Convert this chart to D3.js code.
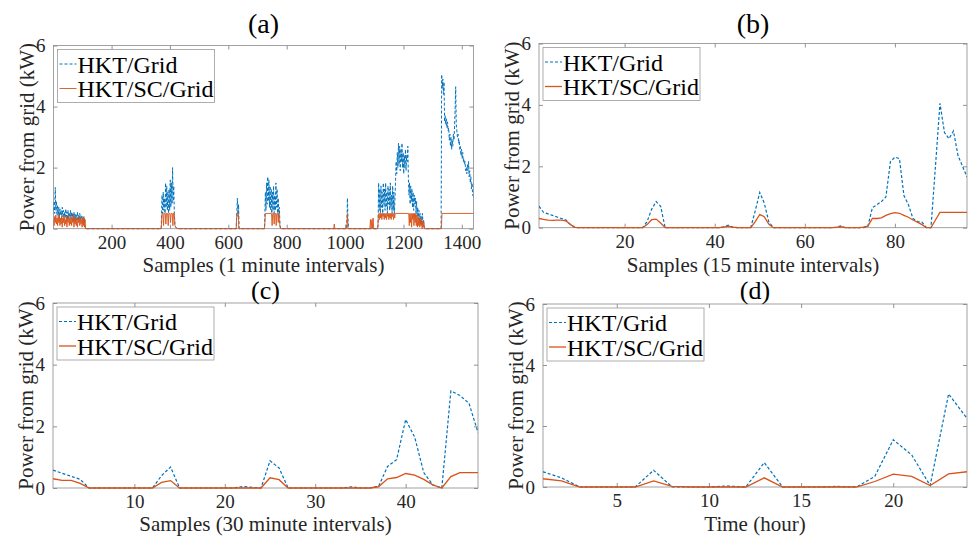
<!DOCTYPE html>
<html><head><meta charset="utf-8">
<script src="https://cdn.jsdelivr.net/npm/d3@7"></script>
<style>body{margin:0;background:#fff}svg{display:block}text{font-family:"Liberation Serif","Times New Roman",serif}</style>
</head><body>
<svg id="chart" width="970" height="539"></svg>
<script>
// ---------- DATA ----------
const seriesNames = ["HKT/Grid", "HKT/SC/Grid"];
const yTicks = [0, 2, 4, 6];
const xTicksA = [200, 400, 600, 800, 1000, 1200, 1400];
const xTicksB = [20, 40, 60, 80];
const xTicksC = [10, 20, 30, 40];
const xTicksD = [5, 10, 15, 20];
const titles = ["(a)", "(b)", "(c)", "(d)"];
const xLabels = ["Samples (1 minute intervals)", "Samples (15 minute intervals)", "Samples (30 minute intervals)", "Time (hour)"];
const yLabel = "Power from grid (kW)";

// Panel (a): [sample, kW] vertices
const gridA = [[1,0.6],[3,0.9],[5,0.5],[7,1.35],[9,0.6],[11,0.9],[13,0.45],[15,0.75],[17,0.4],[19,0.7],[21,0.35],[23,0.65],[25,0.45],[27,0.6],[29,0.35],[31,0.7],[33,0.4],[35,0.6],[37,0.3],[39,0.55],[41,0.35],[43,0.65],[45,0.4],[47,0.55],[49,0.3],[51,0.6],[53,0.35],[55,0.5],[57,0.3],[59,0.6],[61,0.35],[63,0.55],[65,0.3],[67,0.5],[69,0.25],[71,0.55],[73,0.3],[75,0.5],[77,0.25],[79,0.45],[81,0.3],[83,0.55],[85,0.25],[87,0.45],[89,0.3],[91,0.5],[93,0.25],[95,0.45],[97,0.3],[99,0.4],[101,0.2],[103,0.4],[105,0.15],[107,0.35],[109,0.1],[111,0],
[370,0],[373,1.1],[375,0.5],[377,1.2],[379,0.6],[381,1.0],[383,0.5],[385,1.5],[387,0.7],[389,1.4],[391,0.6],[393,1.2],[395,0.5],[397,1.3],[399,0.6],[401,1.6],[403,0.7],[405,1.5],[407,0.8],[409,2.0],[411,0.9],[413,1.4],[415,0.5],[417,0.1],[420,0.05],[425,0],
[627,0],[629,0.5],[631,1.0],[633,0.4],[635,0.8],[637,0],
[724,0],[727,1.2],[729,0.6],[731,1.5],[733,0.8],[735,1.7],[737,0.9],[739,1.6],[741,0.7],[743,1.4],[745,0.6],[747,1.3],[749,0.5],[751,1.2],[753,0.6],[755,1.4],[757,0.5],[759,1.1],[761,0.6],[763,1.5],[765,0.7],[767,1.3],[769,0.5],[771,1.0],[773,0.4],[775,0.7],[777,0.1],[780,0],
[1005,0],[1007,0.5],[1008,1.0],[1010,0.3],[1012,0],
[1110,0],[1113,0.1],[1115,1.5],[1117,0.6],[1119,1.3],[1121,0.5],[1123,1.4],[1125,0.7],[1127,1.2],[1129,0.5],[1131,1.5],[1133,0.8],[1135,1.3],[1137,0.6],[1139,1.5],[1141,0.7],[1143,1.2],[1145,0.5],[1147,1.4],[1149,0.8],[1151,1.3],[1153,0.6],[1155,1.5],[1157,0.7],[1159,1.1],[1161,0.5],[1163,1.4],[1165,0.6],[1167,1.2],[1169,0.5],[1171,1.0],[1173,1.6],[1175,2.2],[1177,1.8],[1179,2.5],[1181,2.0],[1183,2.8],[1185,2.1],[1187,2.7],[1189,1.9],[1191,2.6],[1193,2.2],[1195,2.8],[1197,2.0],[1199,2.5],[1201,1.8],[1203,2.4],[1205,2.0],[1207,2.6],[1209,1.9],[1211,2.4],[1213,2.2],[1215,2.7],[1217,1.6],[1219,1.1],[1221,1.5],[1223,0.8],[1225,1.4],[1227,0.9],[1229,1.3],[1231,0.7],[1233,1.2],[1235,0.6],[1237,1.1],[1239,0.8],[1241,1.0],[1243,0.5],[1245,0.9],[1247,0.4],[1249,0.7],[1251,0.3],[1253,0.6],[1255,0.2],[1257,0.5],[1259,0.15],[1261,0.4],[1263,0.1],[1265,0.5],[1267,0.2],[1269,0.3],[1271,0.05],[1274,0],
[1329,0],[1331,5.05],[1333,4.6],[1335,4.9],[1337,4.4],[1339,4.8],[1341,3.5],[1343,3.7],[1345,3.4],[1347,3.6],[1349,3.3],[1351,3.5],[1353,3.2],[1355,3.3],[1357,2.9],[1359,3.1],[1361,2.7],[1363,3.0],[1365,2.6],[1367,2.9],[1369,2.7],[1371,3.1],[1373,2.9],[1375,3.3],[1377,3.9],[1379,4.65],[1381,3.4],[1383,3.2],[1385,3.0],[1387,3.1],[1389,2.8],[1391,2.9],[1393,2.6],[1395,2.7],[1397,2.4],[1399,2.6],[1401,2.3],[1403,2.5],[1405,2.2],[1407,2.3],[1409,2.1],[1411,2.2],[1413,1.9],[1415,2.0],[1417,1.8],[1419,2.1],[1421,1.9],[1423,2.2],[1425,1.7],[1427,1.9],[1429,1.5],[1431,1.7],[1433,1.3],[1435,1.5],[1437,1.1],[1440,1.05]];

const scA = [[1,0.3],[3,0.1],[5,0.4],[7,0.2],[9,0.45],[11,0.15],[13,0.35],[15,0.1],[17,0.4],[19,0.2],[21,0.45],[23,0.1],[25,0.35],[27,0.15],[29,0.4],[31,0.05],[33,0.35],[35,0.2],[37,0.45],[39,0.1],[41,0.3],[43,0.15],[45,0.4],[47,0.05],[49,0.35],[51,0.2],[53,0.45],[55,0.1],[57,0.3],[59,0.15],[61,0.4],[63,0.1],[65,0.35],[67,0.2],[69,0.45],[71,0.05],[73,0.3],[75,0.15],[77,0.4],[79,0.1],[81,0.35],[83,0.05],[85,0.3],[87,0.2],[89,0.4],[91,0.1],[93,0.35],[95,0.15],[97,0.3],[99,0.05],[101,0.35],[103,0.1],[105,0.4],[107,0.05],[109,0.3],[111,0],
[370,0],[373,0.5],[376,0.5],[378,0.1],[380,0.5],[384,0.5],[386,0.15],[388,0.5],[392,0.5],[394,0.1],[396,0.5],[400,0.5],[402,0.2],[404,0.5],[408,0.5],[410,0.1],[412,0.5],[415,0.5],[417,0.1],[420,0.05],[425,0],
[627,0],[629,0.5],[634,0.5],[636,0],
[724,0],[727,0.5],[748,0.5],[750,0.1],[752,0.5],[755,0.5],[757,0.15],[759,0.5],[762,0.5],[764,0.1],[766,0.5],[769,0.5],[771,0.2],[773,0.5],[775,0.3],[777,0.05],[780,0],
[961,0],[963,0.15],[965,0],[1006,0],[1008,0.5],[1010,0],
[1085,0],[1087,0.3],[1089,0],[1092,0.3],[1094,0],[1096,0.35],[1098,0],[1112,0],[1114,0.4],[1116,0.5],[1118,0.3],[1120,0.5],[1122,0.35],[1124,0.5],[1126,0.3],[1128,0.5],[1130,0.4],[1132,0.5],[1134,0.3],[1136,0.5],[1138,0.35],[1140,0.5],[1142,0.3],[1144,0.5],[1146,0.4],[1148,0.5],[1150,0.3],[1152,0.5],[1154,0.35],[1156,0.5],[1158,0.3],[1160,0.5],[1162,0.4],[1164,0.5],[1166,0.3],[1168,0.5],[1170,0.35],[1172,0.5],[1218,0.5],[1220,0.1],[1222,0.5],[1224,0.2],[1226,0.5],[1228,0.05],[1230,0.5],[1232,0.3],[1234,0.5],[1236,0.1],[1238,0.5],[1240,0.2],[1242,0.5],[1244,0.1],[1246,0.45],[1248,0.05],[1250,0.4],[1252,0.1],[1254,0.35],[1256,0.05],[1258,0.3],[1260,0.1],[1262,0.35],[1264,0.0],[1266,0.25],[1268,0.05],[1270,0.2],[1272,0],
[1330,0],[1332,0.5],[1440,0.5]];

// Panel (b): 96 samples
const gridB = [0.7,0.5,0.45,0.4,0.35,0.3,0.25,0.1,0,
0,0,0,0,0,0,0,0,0,0,0,0,0,0,0,
0.2,0.6,0.85,0.7,0,
0,0,0,0,0,0,0,0,0,0,0,0,
0.03,0.08,0.02,
0,0,0,0,
0.55,1.15,0.8,0.2,0,
0,0,0,0,0,0,0,0,0,0,0,0,0,
0.02,0.06,
0,0,0,0,0,
0.05,0.65,0.75,0.85,1.0,2.15,2.3,2.25,1.05,0.75,0.3,0.2,0.18,0,0,
2.0,4.05,3.1,2.9,3.15,2.35,2.0,1.65];
const scB = [0.3,0.27,0.25,0.24,0.25,0.25,0.22,0.1,0.01,
0,0,0,0,0,0,0,0,0,0,0,0,0,0,0,
0.1,0.26,0.28,0.15,0,
0,0,0,0,0,0,0,0,0,0,0,0,
0.02,0.05,0.02,
0,0,0,0,
0.2,0.43,0.36,0.12,0,
0,0,0,0,0,0,0,0,0,0,0,0,0,
0.01,0.03,
0,0,0,0,0.02,
0.05,0.3,0.3,0.32,0.4,0.46,0.49,0.47,0.4,0.34,0.25,0.18,0.1,0,0,
0.25,0.5,0.5,0.5,0.5,0.5,0.5,0.5];

// Panel (c): 48 samples
const gridC = [0.58,0.48,0.38,0.28,0, 0,0,0,0,0,0,0, 0.4,0.68,0, 0,0,0,0,0,0, 0.05,0.02,0, 0.88,0.65,0, 0,0,0,0,0,0, 0.04,0,0, 0.05,0.7,0.92,2.22,1.65,0.5,0.1,0, 3.15,3.0,2.75,1.8];
const scC = [0.3,0.25,0.25,0.15,0, 0,0,0,0,0,0,0, 0.18,0.24,0, 0,0,0,0,0,0, 0,0,0, 0.33,0.27,0, 0,0,0,0,0,0, 0,0,0, 0.04,0.3,0.34,0.47,0.42,0.28,0.1,0, 0.37,0.5,0.5,0.5];

// Panel (d): 24 hours
const gridD = [0.5,0.3,0,0,0,0,0.55,0,0,0,0.03,0,0.8,0,0,0,0.02,0,0.35,1.55,1.05,0.05,3.05,2.25];
const scD = [0.27,0.2,0,0,0,0,0.2,0.02,0,0,0,0,0.3,0,0,0,0,0,0.18,0.42,0.35,0.05,0.43,0.5];

// ---------- DRAW ----------
const svg = d3.select("#chart");
svg.append("rect").attr("width",970).attr("height",539).attr("fill","#fff");
const BLUE = "#0072BD", ORANGE = "#D95319";
const toPairs = arr => arr.map((v,i)=>[i+1,v]);

const panels = [
  {L:53.5,R:473.5,T:45.5,B:228.7, n:1440, ticks:xTicksA, grid:gridA, sc:scA, lw:[1.0,0.9], titleY:33, xlY:272},
  {L:539,R:967,T:43.5,B:227.7, n:96, ticks:xTicksB, grid:toPairs(gridB), sc:toPairs(scB), lw:[1.2,1.3], titleY:33, xlY:272},
  {L:53,R:478,T:303,B:488, n:48, ticks:xTicksC, grid:toPairs(gridC), sc:toPairs(scC), lw:[1.2,1.3], titleY:299, xlY:531},
  {L:543,R:967,T:304,B:487, n:24, ticks:xTicksD, grid:toPairs(gridD), sc:toPairs(scD), lw:[1.2,1.3], titleY:299, xlY:531}
];

panels.forEach((p,k)=>{
  const x = d3.scaleLinear().domain([1,p.n]).range([p.L,p.R]);
  const y = d3.scaleLinear().domain([0,6]).range([p.B,p.T]);
  const g = svg.append("g");
  const clipId = "clip"+k;
  svg.append("clipPath").attr("id",clipId).append("rect")
    .attr("x",p.L).attr("y",p.T-2).attr("width",p.R-p.L).attr("height",p.B-p.T+4);

  const tl = 4;
  const fmt = d3.format("d");
  const xb = g.append("g").attr("transform",`translate(0,${p.B})`)
    .call(d3.axisBottom(x).tickValues(p.ticks).tickSize(-tl).tickPadding(7).tickFormat(fmt));
  const xt = g.append("g").attr("transform",`translate(0,${p.T})`)
    .call(d3.axisTop(x).tickValues(p.ticks).tickSize(-tl).tickFormat(""));
  const yl = g.append("g").attr("transform",`translate(${p.L},0)`)
    .call(d3.axisLeft(y).tickValues(yTicks).tickSize(-tl).tickPadding(8).tickFormat(fmt));
  const yr = g.append("g").attr("transform",`translate(${p.R},0)`)
    .call(d3.axisRight(y).tickValues(yTicks).tickSize(-tl).tickFormat(""));
  [xb,xt,yl,yr].forEach(a=>{
    a.attr("font-family",null);
    a.select(".domain").remove();
    a.selectAll(".tick line").attr("stroke","#777").attr("stroke-width",0.8);
    a.selectAll(".tick text").attr("font-family","Liberation Serif").attr("font-size",19).attr("fill","#262626");
  });
  g.append("rect").attr("x",p.L).attr("y",p.T).attr("width",p.R-p.L).attr("height",p.B-p.T)
    .attr("fill","none").attr("stroke","#8a8a8a").attr("stroke-width",0.8);

  const line = d3.line().x(d=>x(d[0])).y(d=>y(d[1]));
  const lg = svg.append("g").attr("clip-path",`url(#${clipId})`);
  lg.append("path").datum(p.grid).attr("d",line).attr("fill","none")
    .attr("stroke",BLUE).attr("stroke-width",p.lw[0]).attr("stroke-dasharray","3,2");
  lg.append("path").datum(p.sc).attr("d",line).attr("fill","none")
    .attr("stroke",ORANGE).attr("stroke-width",p.lw[1]);

  svg.append("text").attr("x",(p.L+p.R)/2).attr("y",p.titleY).attr("text-anchor","middle")
    .attr("font-size",k<2?28:26).attr("fill","#000").text(titles[k]);
  svg.append("text").attr("x",(p.L+p.R)/2).attr("y",p.xlY).attr("text-anchor","middle")
    .attr("font-size",21).attr("fill","#262626").text(xLabels[k]);
  svg.append("text").attr("transform",`translate(${p.L-27},${(p.T+p.B)/2}) rotate(-90)`)
    .attr("text-anchor","middle").attr("dy","0.35em")
    .attr("font-size",21).attr("fill","#262626").text(yLabel);

  const lx = p.L+4, ly = p.T+4;
  const leg = svg.append("g");
  leg.append("rect").attr("x",lx).attr("y",ly).attr("width",157).attr("height",53)
    .attr("fill","#fff").attr("stroke","#999").attr("stroke-width",0.8);
  const rows = [{c:BLUE,dash:"3,2",w:p.lw[0]},{c:ORANGE,dash:null,w:p.lw[1]}];
  rows.forEach((r,i)=>{
    const cy = ly+14.5+i*24.5;
    leg.append("line").attr("x1",lx+2).attr("x2",lx+19).attr("y1",cy).attr("y2",cy)
      .attr("stroke",r.c).attr("stroke-width",r.w).attr("stroke-dasharray",r.dash);
    leg.append("text").attr("x",lx+20).attr("y",cy+8.5).attr("font-size",24).attr("fill","#000").text(seriesNames[i]);
  });
});
</script>
</body></html>
